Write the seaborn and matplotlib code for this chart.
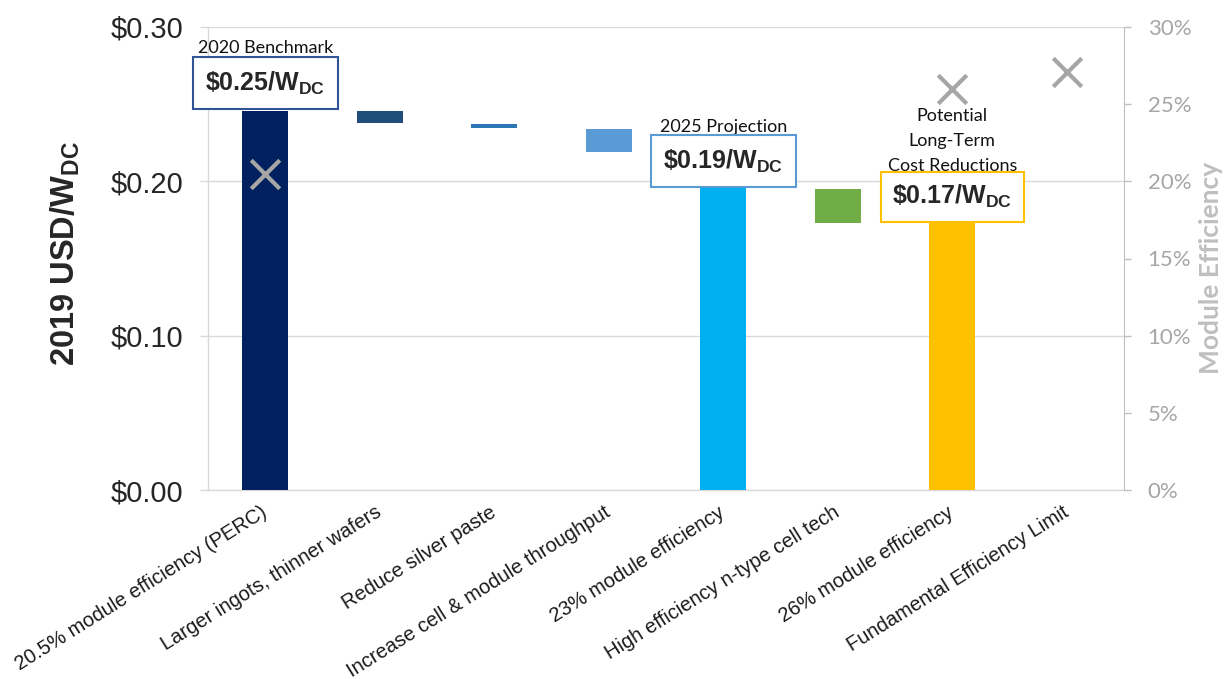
import numpy as np
import pandas as pd
import seaborn as sns
import matplotlib.pyplot as plt
import matplotlib as mpl

# ---------------- data ----------------
categories = [
    "20.5% module efficiency (PERC)",
    "Larger ingots, thinner wafers",
    "Reduce silver paste",
    "Increase cell & module throughput",
    "23% module efficiency",
    "High efficiency n-type cell tech",
    "26% module efficiency",
    "Fundamental Efficiency Limit",
]
bar_bottoms = [0.0, 0.2379, 0.2346, 0.2192, 0.0, 0.1729, 0.0, np.nan]
bar_tops = [0.2456, 0.2455, 0.2372, 0.2339, 0.1957, 0.1949, 0.1730, np.nan]
efficiency_pct = [20.5, np.nan, np.nan, np.nan, np.nan, np.nan, 26.0, 27.1]
bar_colors = ["#002060", "#1F4E79", "#2E75B6", "#5B9BD5", "#00B0F0",
              "#70AD47", "#FFC000", "#FFFFFF"]
usd_ticks = [0.0, 0.1, 0.2, 0.3]
usd_tick_labels = [r"\$0.00", r"\$0.10", r"\$0.20", r"\$0.30"]
pct_ticks = [0, 5, 10, 15, 20, 25, 30]
pct_tick_labels = ["0%", "5%", "10%", "15%", "20%", "25%", "30%"]

# ---------------- style ----------------
sns.set_style("white")
plt.rcParams["font.family"] = ["Liberation Sans", "DejaVu Sans"]
plt.rcParams["mathtext.fontset"] = "custom"
plt.rcParams["mathtext.rm"] = "Liberation Sans"
plt.rcParams["mathtext.bf"] = "Liberation Sans:bold"
plt.rcParams["mathtext.it"] = "Liberation Sans:italic"

fig = plt.figure(figsize=(12.29, 6.79), dpi=100)
ax = fig.add_axes([208 / 1229, 1 - 490 / 679, (1124 - 208) / 1229, (490 - 27) / 679])

grid_c = "#D9D9D9"
for cat, b, t, c in zip(categories, bar_bottoms, bar_tops, bar_colors):
    if np.isnan(t):
        continue
    sns.barplot(x=[cat], y=[t - b], bottom=b, order=categories, color=c,
                saturation=1, width=0.4, ax=ax, zorder=3, linewidth=0)

ax.set_xlim(-0.5, len(categories) - 0.5)
ax.set_ylim(0, 0.30)
ax.set_yticks(usd_ticks)
ax.set_yticklabels(usd_tick_labels, fontsize=21)
ax.set_axisbelow(True)
ax.yaxis.grid(True, color=grid_c, lw=1)
ax.xaxis.grid(False)
ax.tick_params(axis="y", length=5.5, color=grid_c, width=1, pad=12, left=True)
ax.set_xticks(np.arange(len(categories)))
ax.set_xticklabels(categories, rotation=32, ha="right", va="center",
                   rotation_mode="anchor", fontsize=14.5, color="#1a1a1a")
ax.tick_params(axis="x", length=0, pad=15)
ax.set_xticks(np.arange(-0.5, len(categories), 1), minor=True)
ax.tick_params(axis="x", which="minor", length=5, color=grid_c, width=1)
for s in ["top", "right"]:
    ax.spines[s].set_visible(False)
for s in ["left", "bottom"]:
    ax.spines[s].set_color(grid_c)
    ax.spines[s].set_linewidth(1)
ax.set_xlabel("")
ax.set_ylabel(r"2019 USD/W$_{\mathbf{DC}}$", fontsize=23.5, fontweight="bold")
ax.yaxis.label.set_va("center")
ax.yaxis.set_label_coords(-0.156, 0.51)

# ---------------- secondary axis ----------------
ax2 = ax.twinx()
sns.scatterplot(x=np.arange(len(categories)), y=efficiency_pct, ax=ax2,
                marker="x", s=420, color="#A6A6A6", linewidth=3.0, zorder=5)
ax2.set_xlim(-0.5, len(categories) - 0.5)
ax2.set_ylim(0, 30)
ax2.set_yticks(pct_ticks)
ax2.set_yticklabels(pct_tick_labels, fontsize=16, color="#A6A6A6",
                    family=["Lato", "DejaVu Sans"])
ax2.tick_params(axis="y", length=5, color="#BFBFBF", width=1, pad=12, right=True)
for s in ["top", "left", "bottom"]:
    ax2.spines[s].set_visible(False)
ax2.spines["right"].set_color("#BFBFBF")
ax2.set_ylabel("Module Efficiency", fontsize=19, fontweight="bold",
               color="#BFBFBF", family=["Lato", "DejaVu Sans"])
ax2.yaxis.label.set_va("center")
ax2.yaxis.label.set_rotation(90)
ax2.yaxis.set_label_coords(1.0955, 0.48)
ax2.set_xlabel("")

# ---------------- annotations ----------------
lbl_font = ["Lato", "DejaVu Sans"]
ax.text(0, 0.2865, "2020 Benchmark", ha="center", va="center", fontsize=13,
        family=lbl_font, color="#111111", zorder=6)
ax.text(0, 0.2637, r"$\mathbf{\$0.25/W_{DC}}$", ha="center", va="center",
        fontsize=18, zorder=6,
        bbox=dict(boxstyle="square,pad=0.5", fc="white", ec="#2F5597", lw=1.5))

ax.text(4, 0.2352, "2025 Projection", ha="center", va="center", fontsize=13,
        family=lbl_font, color="#111111", zorder=6)
ax.text(4, 0.2132, r"$\mathbf{\$0.19/W_{DC}}$", ha="center", va="center",
        fontsize=18, zorder=6,
        bbox=dict(boxstyle="square,pad=0.5", fc="white", ec="#5B9BD5", lw=1.5))

ax.text(6, 0.2261, "Potential\nLong-Term\nCost Reductions", ha="center",
        va="center", fontsize=13, family=lbl_font, color="#111111",
        linespacing=1.7, zorder=6)
ax.text(6, 0.1900, r"$\mathbf{\$0.17/W_{DC}}$", ha="center", va="center",
        fontsize=18, zorder=6,
        bbox=dict(boxstyle="square,pad=0.45", fc="white", ec="#FFC000", lw=1.5))

fig.savefig("out.png", dpi=100)
